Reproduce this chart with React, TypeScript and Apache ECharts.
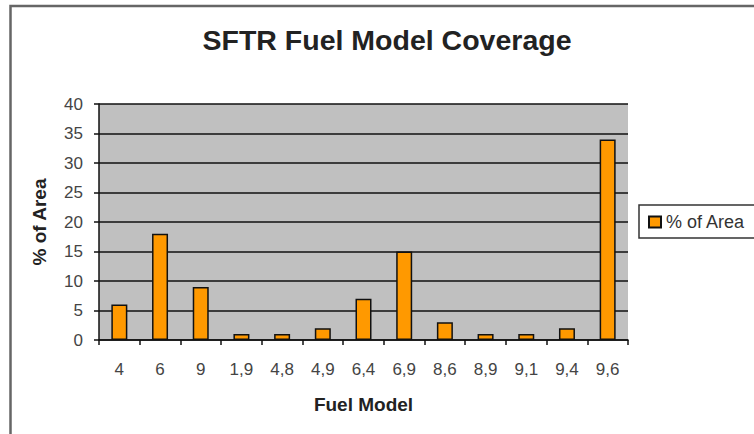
import React, { useEffect, useRef } from "react";
import * as echarts from "echarts";

const categories = ["4", "6", "9", "1,9", "4,8", "4,9", "6,4", "6,9", "8,6", "8,9", "9,1", "9,4", "9,6"];
const areaValues = [6, 18, 9, 1, 1, 2, 7, 15, 3, 1, 1, 2, 34];
const seriesName = "% of Area";
const titleText = "SFTR Fuel Model Coverage";
const xAxisName = "Fuel Model";
const yAxisName = "% of Area";

export default function App() {
  const ref = useRef<HTMLDivElement>(null);
  useEffect(() => {
    if (!ref.current) return;
    const chart = echarts.init(ref.current, undefined, { renderer: "svg" });
    const font = "'Liberation Sans', Arial, sans-serif";
    chart.setOption({
      animation: false,
      backgroundColor: "#ffffff",
      textStyle: { fontFamily: font },
      graphic: [
        {
          type: "rect",
          shape: { x: 10.5, y: 6, width: 800, height: 500 },
          style: { fill: "none", stroke: "#666666", lineWidth: 2.5 },
          z: 100,
        },
        {
          type: "text",
          x: 387,
          y: 40,
          style: {
            text: titleText,
            fill: "#222222",
            font: "bold 28.5px 'Liberation Sans', Arial, sans-serif",
            textAlign: "center",
            textVerticalAlign: "middle",
          },
        },
      ],
      legend: {
        left: 639,
        top: 205,
        data: [seriesName],
        orient: "vertical",
        padding: [8, 30, 7, 9],
        borderColor: "#333333",
        borderWidth: 1.5,
        itemWidth: 12,
        itemHeight: 11,
        icon: "rect",
        textStyle: { fontSize: 18, color: "#333333", fontFamily: font },
      },
      grid: { left: 99, right: 126, top: 104, bottom: 94, show: true, backgroundColor: "#c0c0c0", borderWidth: 0 },
      xAxis: {
        type: "category",
        data: categories,
        name: xAxisName,
        nameLocation: "middle",
        nameGap: 55,
        nameTextStyle: { fontWeight: "bold", fontSize: 19, color: "#222222", fontFamily: font, verticalAlign: "top" },
        axisLine: { lineStyle: { color: "#111111", width: 1.5 } },
        axisTick: { show: true, length: 5, lineStyle: { color: "#111111", width: 1.5 } },
        axisLabel: { fontSize: 17, color: "#444444", margin: 21, fontFamily: font, interval: 0 },
      },
      yAxis: {
        type: "value",
        min: 0,
        max: 40,
        interval: 5,
        name: yAxisName,
        nameLocation: "middle",
        nameGap: 50,
        nameRotate: 90,
        nameTextStyle: { fontWeight: "bold", fontSize: 19, color: "#222222", fontFamily: font },
        axisLine: { show: true, lineStyle: { color: "#111111", width: 1.5 } },
        axisTick: { show: true, length: 5, lineStyle: { color: "#111111", width: 1.5 } },
        axisLabel: { fontSize: 17, color: "#444444", margin: 16, fontFamily: font },
        splitLine: { show: true, lineStyle: { color: "#111111", width: 1.5 } },
      },
      series: [
        {
          name: seriesName,
          type: "bar",
          data: areaValues,
          barWidth: 16,
          itemStyle: { color: "#ff9900", borderColor: "#111111", borderWidth: 1.5 },
        },
      ],
    });
    return () => chart.dispose();
  }, []);
  return (
    <div
      ref={ref}
      style={{ position: "absolute", left: 0, top: 0, width: 754, height: 434 }}
    />
  );
}
